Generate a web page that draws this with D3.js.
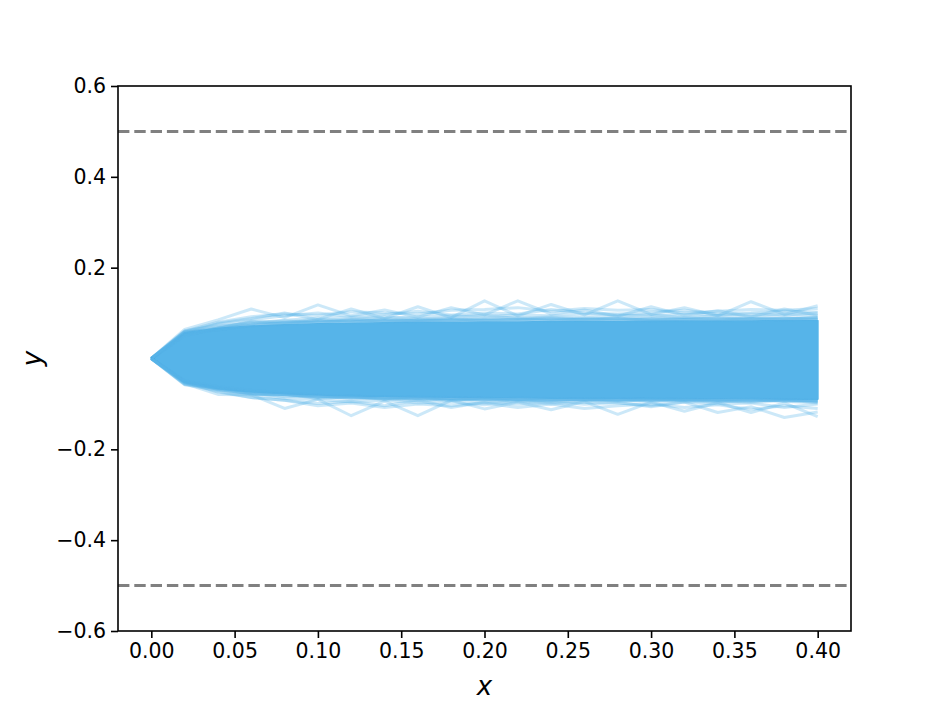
<!DOCTYPE html>
<html>
<head>
<meta charset="utf-8">
<script src="https://cdn.jsdelivr.net/npm/d3@7"></script>
<style>
  body { margin: 0; background: white; }
  text { font-family: "DejaVu Sans", sans-serif; }
</style>
</head>
<body>
<script>
// x steps of the walks
const xs = [0, 0.02, 0.04, 0.06, 0.08, 0.10, 0.12, 0.14, 0.16, 0.18, 0.20,
            0.22, 0.24, 0.26, 0.28, 0.30, 0.32, 0.34, 0.36, 0.38, 0.40];

// dense core of the bundle (where the lines pile up to a solid colour)
const coreTop = [0, .056, .066, .071, .074, .076, .077, .078, .079, .079, .080,
                 .080, .081, .081, .081, .082, .082, .082, .082, .083, .083];
const coreBottom = [0, -.052, -.066, -.073, -.077, -.080, -.082, -.083, -.084, -.085, -.086,
                    -.086, -.087, -.087, -.087, -.088, -.088, -.088, -.088, -.089, -.089];

// individual paths visible at the edges of the bundle
const upperPaths = [
  [0, .064, .085, .109, .090, .118, .094, .107, .091, .112, .096, .127, .098, .107, .093, .114, .095, .105, .092, .109, .095],
  [0, .058, .078, .088, .100, .086, .109, .088, .114, .090, .127, .094, .119, .096, .127, .097, .112, .094, .125, .097, .116],
  [0, .060, .080, .092, .098, .095, .103, .100, .098, .106, .108, .112, .104, .110, .106, .108, .100, .104, .108, .106, .110],
  [0, .058, .076, .085, .094, .100, .092, .097, .104, .096, .100, .098, .108, .100, .098, .102, .106, .098, .100, .104, .102],
  [0, .055, .070, .078, .084, .089, .090, .088, .092, .094, .092, .096, .094, .098, .096, .094, .098, .096, .098, .096, .100],
  [0, .057, .066, .082, .080, .086, .085, .092, .087, .090, .096, .088, .092, .090, .093, .097, .090, .094, .092, .098, .094],
  [0, .052, .064, .072, .078, .082, .084, .083, .086, .085, .088, .090, .086, .089, .087, .088, .091, .087, .089, .088, .090],
  [0, .061, .072, .076, .083, .079, .086, .082, .084, .088, .083, .086, .089, .084, .088, .085, .087, .090, .085, .089, .087],
  [0, .054, .068, .080, .076, .084, .080, .086, .082, .084, .086, .083, .085, .087, .084, .087, .085, .084, .088, .085, .088],
  [0, .059, .063, .074, .079, .081, .083, .081, .085, .083, .085, .087, .083, .086, .089, .083, .086, .088, .086, .087, .091],
  [0, .050, .067, .073, .077, .080, .081, .084, .082, .086, .084, .085, .088, .085, .086, .089, .087, .085, .087, .090, .086]
];
const lowerPaths = [
  [0, -.055, -.079, -.080, -.110, -.090, -.126, -.094, -.126, -.092, -.111, -.096, -.113, -.095, -.123, -.096, -.116, -.097, -.119, -.098, -.128],
  [0, -.052, -.072, -.086, -.092, -.099, -.094, -.104, -.092, -.108, -.096, -.101, -.095, -.101, -.097, -.106, -.096, -.119, -.106, -.130, -.118],
  [0, -.053, -.074, -.086, -.092, -.104, -.098, -.108, -.100, -.104, -.098, -.108, -.100, -.110, -.104, -.100, -.108, -.102, -.112, -.104, -.110],
  [0, -.054, -.068, -.078, -.088, -.090, -.096, -.092, -.098, -.096, -.102, -.094, -.100, -.096, -.098, -.104, -.096, -.100, -.098, -.108, -.100],
  [0, -.050, -.066, -.072, -.080, -.084, -.086, -.090, -.088, -.092, -.090, -.094, -.092, -.090, -.094, -.092, -.094, -.096, -.092, -.094, -.098],
  [0, -.056, -.064, -.080, -.078, -.088, -.084, -.087, -.093, -.088, -.095, -.090, -.096, -.093, -.090, -.096, -.091, -.093, -.097, -.091, -.095],
  [0, -.049, -.062, -.070, -.076, -.081, -.083, -.085, -.086, -.087, -.088, -.089, -.088, -.090, -.089, -.090, -.091, -.090, -.091, -.092, -.091],
  [0, -.058, -.070, -.076, -.084, -.082, -.089, -.086, -.088, -.092, -.087, -.091, -.093, -.088, -.092, -.089, -.093, -.091, -.089, -.094, -.092],
  [0, -.052, -.068, -.079, -.079, -.086, -.083, -.090, -.086, -.089, -.091, -.087, -.090, -.092, -.088, -.091, -.089, -.092, -.094, -.090, -.093],
  [0, -.057, -.065, -.074, -.081, -.083, -.087, -.084, -.090, -.087, -.089, -.092, -.088, -.091, -.093, -.088, -.091, -.094, -.090, -.092, -.096],
  [0, -.051, -.067, -.077, -.079, -.083, -.085, -.088, -.085, -.090, -.088, -.090, -.091, -.089, -.091, -.093, -.090, -.092, -.093, -.091, -.094]
];

const bounds = [-0.5, 0.5];
const xTicks = [0, 0.05, 0.10, 0.15, 0.20, 0.25, 0.30, 0.35, 0.40];
const yTicks = [-0.6, -0.4, -0.2, 0.2, 0.4, 0.6];

const lineColor = "#56b4e9";

const W = 946, H = 710;
const margin = {top: 86, right: 95, bottom: 79, left: 118},
    width = W - margin.left - margin.right,
    height = H - margin.top - margin.bottom;

const svg = d3.select("body").append("svg")
    .attr("width", W)
    .attr("height", H);

const g = svg.append("g")
    .attr("transform", `translate(${margin.left},${margin.top})`);

const x = d3.scaleLinear().domain([-0.02, 0.42]).range([0, width]);
const y = d3.scaleLinear().domain([-0.6, 0.6]).range([height, 0]);

// clip to the axes area
g.append("clipPath").attr("id", "clip")
  .append("rect").attr("width", width).attr("height", height);

const plot = g.append("g").attr("clip-path", "url(#clip)");

// solid core
const area = d3.area()
    .x((d, i) => x(xs[i]))
    .y0((d, i) => y(coreBottom[i]))
    .y1(d => y(d));
plot.append("path")
    .datum(coreTop)
    .attr("d", area)
    .attr("fill", lineColor)
    .attr("stroke", lineColor)
    .attr("stroke-width", 2)
    .attr("stroke-linejoin", "round");

// edge paths
const line = d3.line()
    .x((d, i) => x(xs[i]))
    .y(d => y(d));
plot.selectAll(".walk")
  .data(upperPaths.concat(lowerPaths))
  .enter().append("path")
    .attr("class", "walk")
    .attr("d", line)
    .attr("fill", "none")
    .attr("stroke", lineColor)
    .attr("stroke-opacity", 0.3)
    .attr("stroke-width", 3)
    .attr("stroke-linejoin", "round");

// dashed bounds
plot.selectAll(".bound")
  .data(bounds)
  .enter().append("line")
    .attr("class", "bound")
    .attr("x1", 0).attr("x2", width)
    .attr("y1", d => y(d)).attr("y2", d => y(d))
    .attr("stroke", "#808080")
    .attr("stroke-width", 3)
    .attr("stroke-dasharray", "11.4,4.9");

// axes
const fmtY = d => d3.format(".1f")(d).replace("-", "\u2212");
const xAxis = g.append("g")
    .attr("transform", `translate(0,${height})`)
    .call(d3.axisBottom(x).tickValues(xTicks).tickFormat(d3.format(".2f")).tickSizeOuter(0).tickSize(7).tickPadding(5));
const yAxis = g.append("g")
    .call(d3.axisLeft(y).tickValues(yTicks).tickFormat(fmtY).tickSizeOuter(0).tickSize(7).tickPadding(5));

[xAxis, yAxis].forEach(a => {
  a.select(".domain").remove();
  a.selectAll(".tick line").attr("stroke", "#000").attr("stroke-width", 1.6);
  a.selectAll(".tick text").attr("fill", "#000").style("font-size", "20.5px");
});

// frame
g.append("rect")
    .attr("width", width).attr("height", height)
    .attr("fill", "none")
    .attr("stroke", "#000")
    .attr("stroke-width", 1.6);

// axis labels
svg.append("text")
    .attr("x", margin.left + x(0.2))
    .attr("y", 695)
    .attr("text-anchor", "middle")
    .style("font-size", "26px")
    .style("font-style", "oblique")
    .text("x");

svg.append("text")
    .attr("transform", `translate(41,${margin.top + y(0)}) rotate(-90)`)
    .attr("text-anchor", "middle")
    .style("font-size", "26px")
    .style("font-style", "oblique")
    .text("y");
</script>
</body>
</html>
